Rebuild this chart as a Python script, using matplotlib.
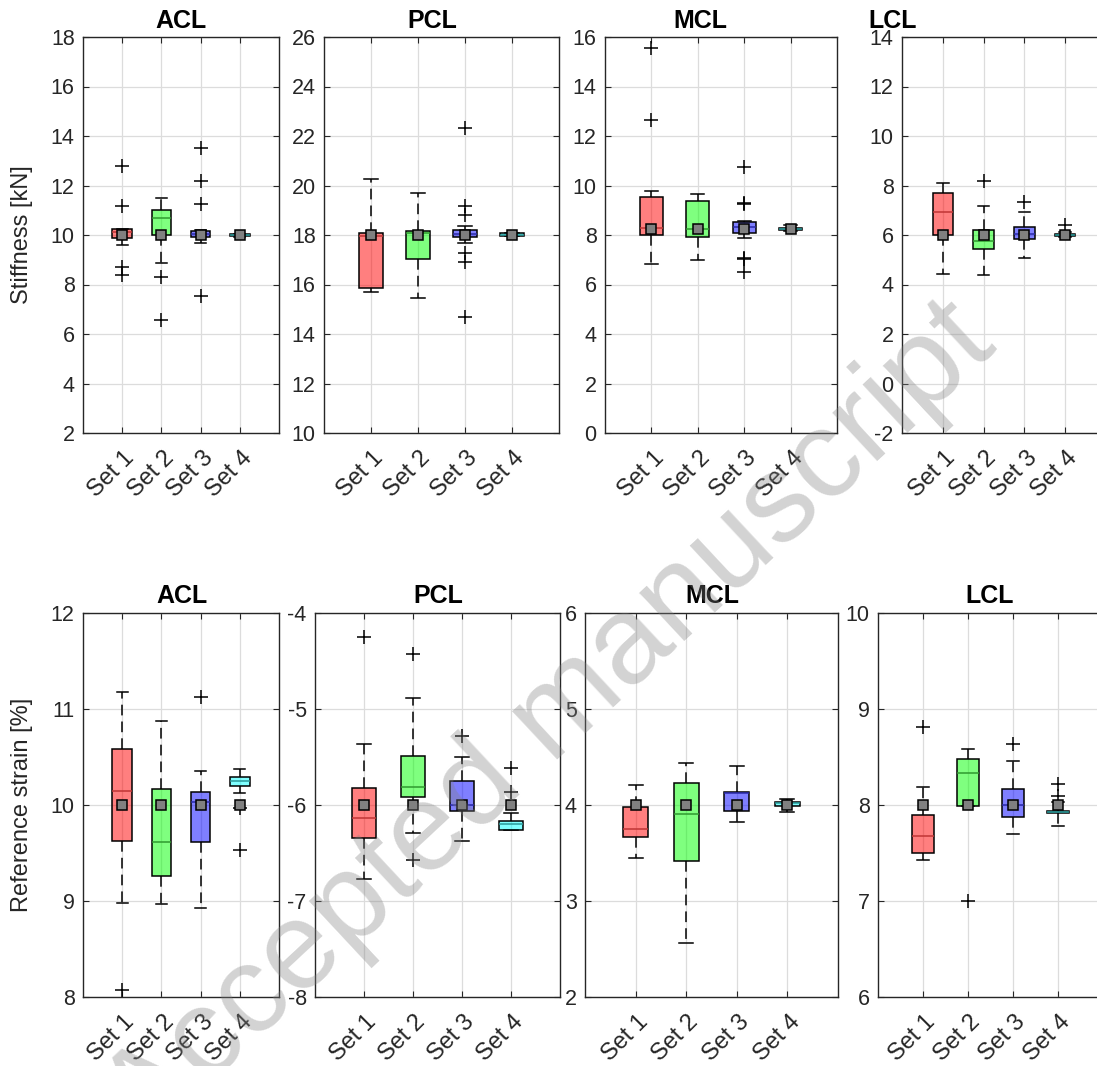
import matplotlib
matplotlib.use("Agg")
import matplotlib.pyplot as plt
from matplotlib.transforms import ScaledTranslation, blended_transform_factory

plt.rcParams['font.family'] = ['Liberation Sans', 'DejaVu Sans']

# ---------------- data ----------------
sets = ["Set 1", "Set 2", "Set 3", "Set 4"]
titles = ["ACL", "PCL", "MCL", "LCL"]

# Stiffness [kN]
s_acl_q1 = [9.89, 10.00, 9.93, 9.95]
s_acl_med = [10.13, 10.70, 10.04, 10.00]
s_acl_q3 = [10.24, 11.01, 10.16, 10.03]
s_acl_lo = [9.60, 8.85, 9.66, 9.93]
s_acl_hi = [10.24, 11.51, 10.20, 10.06]
s_acl_out = [[12.79, 11.19, 8.69, 8.38], [8.32, 6.56], [13.53, 12.18, 11.24, 7.55], []]
s_acl_ref = [10, 10, 10, 10]

s_pcl_q1 = [15.84, 17.02, 17.90, 17.96]
s_pcl_med = [17.95, 18.09, 18.04, 18.02]
s_pcl_q3 = [18.09, 18.16, 18.20, 18.08]
s_pcl_lo = [15.71, 15.44, 17.69, 17.94]
s_pcl_hi = [20.28, 19.70, 18.36, 18.10]
s_pcl_out = [[], [], [22.34, 19.17, 18.80, 17.29, 16.89, 14.70], []]
s_pcl_ref = [18, 18, 18, 18]

s_mcl_q1 = [8.00, 7.93, 8.09, 8.20]
s_mcl_med = [8.27, 8.23, 8.34, 8.25]
s_mcl_q3 = [9.55, 9.39, 8.51, 8.30]
s_mcl_lo = [6.83, 6.99, 7.89, 8.15]
s_mcl_hi = [9.78, 9.64, 8.55, 8.40]
s_mcl_out = [[15.55, 12.65], [], [10.76, 9.28, 9.24, 7.08, 7.02, 6.49], []]
s_mcl_ref = [8.25, 8.25, 8.25, 8.25]

s_lcl_q1 = [6.00, 5.42, 5.82, 5.97]
s_lcl_med = [6.94, 5.77, 6.04, 6.00]
s_lcl_q3 = [7.71, 6.20, 6.31, 6.05]
s_lcl_lo = [4.41, 4.38, 5.06, 5.92]
s_lcl_hi = [8.09, 7.19, 6.92, 6.12]
s_lcl_out = [[], [8.20], [7.32], [6.40]]
s_lcl_ref = [6, 6, 6, 6]

# Reference strain [%]
r_acl_q1 = [9.62, 9.26, 9.61, 10.20]
r_acl_med = [10.15, 9.61, 10.03, 10.25]
r_acl_q3 = [10.58, 10.17, 10.14, 10.29]
r_acl_lo = [8.98, 8.97, 8.93, 10.13]
r_acl_hi = [11.18, 10.875, 10.35, 10.38]
r_acl_out = [[8.07], [], [11.13], [9.97, 9.53]]
r_acl_ref = [10, 10, 10, 10]

r_pcl_q1 = [-6.34, -5.92, -6.06, -6.26]
r_pcl_med = [-6.14, -5.81, -6.00, -6.20]
r_pcl_q3 = [-5.82, -5.49, -5.75, -6.17]
r_pcl_lo = [-6.77, -6.29, -6.37, -6.26]
r_pcl_hi = [-5.36, -4.89, -5.50, -6.08]
r_pcl_out = [[-4.25], [-4.43, -6.57], [-5.28], [-5.61, -5.86]]
r_pcl_ref = [-6, -6, -6, -6]

r_mcl_q1 = [3.67, 3.42, 3.94, 3.99]
r_mcl_med = [3.75, 3.91, 4.13, 4.02]
r_mcl_q3 = [3.98, 4.23, 4.14, 4.03]
r_mcl_lo = [3.45, 2.56, 3.82, 3.93]
r_mcl_hi = [4.21, 4.44, 4.41, 4.06]
r_mcl_out = [[], [], [], []]
r_mcl_ref = [4, 4, 4, 4]

r_lcl_q1 = [7.50, 7.99, 7.87, 7.92]
r_lcl_med = [7.68, 8.33, 8.00, 7.93]
r_lcl_q3 = [7.90, 8.48, 8.17, 7.94]
r_lcl_lo = [7.43, 7.99, 7.70, 7.78]
r_lcl_hi = [8.19, 8.58, 8.46, 8.03]
r_lcl_out = [[8.81], [7.00], [8.64], [8.09, 8.22]]
r_lcl_ref = [8, 8, 8, 8]

top_ylims = [(2, 18), (10, 26), (0, 16), (-2, 14)]
bot_ylims = [(8, 12), (-8, -4), (2, 6), (6, 10)]

# ---------------- style ----------------
box_faces = [(1, 0, 0, 0.5), (0, 1, 0, 0.5), (0, 0, 1, 0.5), (0, 1, 1, 0.5)]
med_colors = ['#c03535', '#2f9a2f', '#2a2aa8', '#2a9a9a']
axc = '#262626'

W, H = 1097, 1066
fig = plt.figure(figsize=(W / 100, H / 100), dpi=100)
xlab_offset = ScaledTranslation(9 / 100, -22 / 100, fig.dpi_scale_trans)


def make_ax(l, r, t, b):
    return fig.add_axes([l / W, 1 - b / H, (r - l) / W, (b - t) / H])


def draw_panel(ax, q1, med, q3, lo, hi, out, ref, ylim, step):
    stats = []
    for i in range(4):
        stats.append(dict(q1=q1[i], med=med[i], q3=q3[i], whislo=lo[i],
                          whishi=hi[i], fliers=out[i], label=sets[i]))
    pos = [1, 2, 3, 4]
    res = ax.bxp(stats, positions=pos, widths=0.5, patch_artist=True,
                 showfliers=True, capwidths=[0.28] * 4,
                 boxprops=dict(edgecolor='black', linewidth=1.1),
                 whiskerprops=dict(color='black', linewidth=1.1, linestyle=(0, (7, 4))),
                 capprops=dict(color='black', linewidth=1.1),
                 flierprops=dict(marker='+', markersize=10, markeredgecolor='black',
                                 markeredgewidth=1.1, linestyle='none'),
                 medianprops=dict(linewidth=1.1))
    for i, b in enumerate(res['boxes']):
        b.set_facecolor(box_faces[i])
        b.set_zorder(3)
    for i, m in enumerate(res['medians']):
        m.set_color(med_colors[i])
        m.set_zorder(4)
    for w in res['whiskers'] + res['caps']:
        w.set_zorder(2.5)
    ax.plot(pos, ref, 's', color='#808080', markeredgecolor='black',
            markersize=7, markeredgewidth=1.1, zorder=6, linestyle='none')
    ax.set_xlim(0, 5)
    ax.set_ylim(*ylim)
    lo_y, hi_y = ylim
    ticks = []
    v = lo_y
    while v <= hi_y + 1e-9:
        ticks.append(v)
        v += step
    ax.set_yticks(ticks)
    ax.set_yticklabels([f"{t:g}" for t in ticks])
    ax.set_xticks(pos)
    ax.set_xticklabels([])
    tr = blended_transform_factory(ax.transData, ax.transAxes) + xlab_offset
    for p, s in zip(pos, sets):
        ax.text(p, 0, s, transform=tr, rotation=45, rotation_mode='anchor',
                ha='right', va='center', fontsize=17, color=axc, clip_on=False)
    ax.tick_params(direction='in', top=True, right=True, length=4,
                   colors=axc, width=0.8, pad=6)
    ax.tick_params(axis='y', labelsize=15.5)
    ax.grid(True, color='#dcdcdc', linewidth=0.9)
    ax.set_axisbelow(True)
    for sp in ax.spines.values():
        sp.set_color(axc)
        sp.set_linewidth(1.0)


top_cols = [(83, 279), (324, 559), (605, 837), (902, 1106)]
bot_cols = [(83, 279), (315, 560), (585, 838), (878, 1103)]
top_title_x = [181, 432, 700, 893]
bot_title_x = [182, 438, 712, 990]

top_data = [
    (s_acl_q1, s_acl_med, s_acl_q3, s_acl_lo, s_acl_hi, s_acl_out, s_acl_ref),
    (s_pcl_q1, s_pcl_med, s_pcl_q3, s_pcl_lo, s_pcl_hi, s_pcl_out, s_pcl_ref),
    (s_mcl_q1, s_mcl_med, s_mcl_q3, s_mcl_lo, s_mcl_hi, s_mcl_out, s_mcl_ref),
    (s_lcl_q1, s_lcl_med, s_lcl_q3, s_lcl_lo, s_lcl_hi, s_lcl_out, s_lcl_ref),
]
bot_data = [
    (r_acl_q1, r_acl_med, r_acl_q3, r_acl_lo, r_acl_hi, r_acl_out, r_acl_ref),
    (r_pcl_q1, r_pcl_med, r_pcl_q3, r_pcl_lo, r_pcl_hi, r_pcl_out, r_pcl_ref),
    (r_mcl_q1, r_mcl_med, r_mcl_q3, r_mcl_lo, r_mcl_hi, r_mcl_out, r_mcl_ref),
    (r_lcl_q1, r_lcl_med, r_lcl_q3, r_lcl_lo, r_lcl_hi, r_lcl_out, r_lcl_ref),
]

for i in range(4):
    ax = make_ax(top_cols[i][0], top_cols[i][1], 37, 433)
    draw_panel(ax, *top_data[i], top_ylims[i], 2)
    fig.text(top_title_x[i] / W, 1 - 28 / H, titles[i], ha='center',
             va='baseline', fontsize=18, fontweight='bold', color='black')
    ax = make_ax(bot_cols[i][0], bot_cols[i][1], 613, 997)
    draw_panel(ax, *bot_data[i], bot_ylims[i], 1)
    fig.text(bot_title_x[i] / W, 1 - 603 / H, titles[i], ha='center',
             va='baseline', fontsize=18, fontweight='bold', color='black')

fig.text(22 / W, 1 - 235 / H, "Stiffness [kN]", rotation=90, ha='center',
         va='center', fontsize=17, color=axc)
fig.text(22 / W, 1 - 805 / H, "Reference strain [%]", rotation=90, ha='center',
         va='center', fontsize=17, color=axc)

# watermark
fig.text(550 / W, 1 - 723 / H, "Accepted manuscript", rotation=43,
         rotation_mode='anchor', ha='center', va='center', fontsize=90,
         color='#808080', alpha=0.35, zorder=20)

fig.savefig("out.png", dpi=100)
